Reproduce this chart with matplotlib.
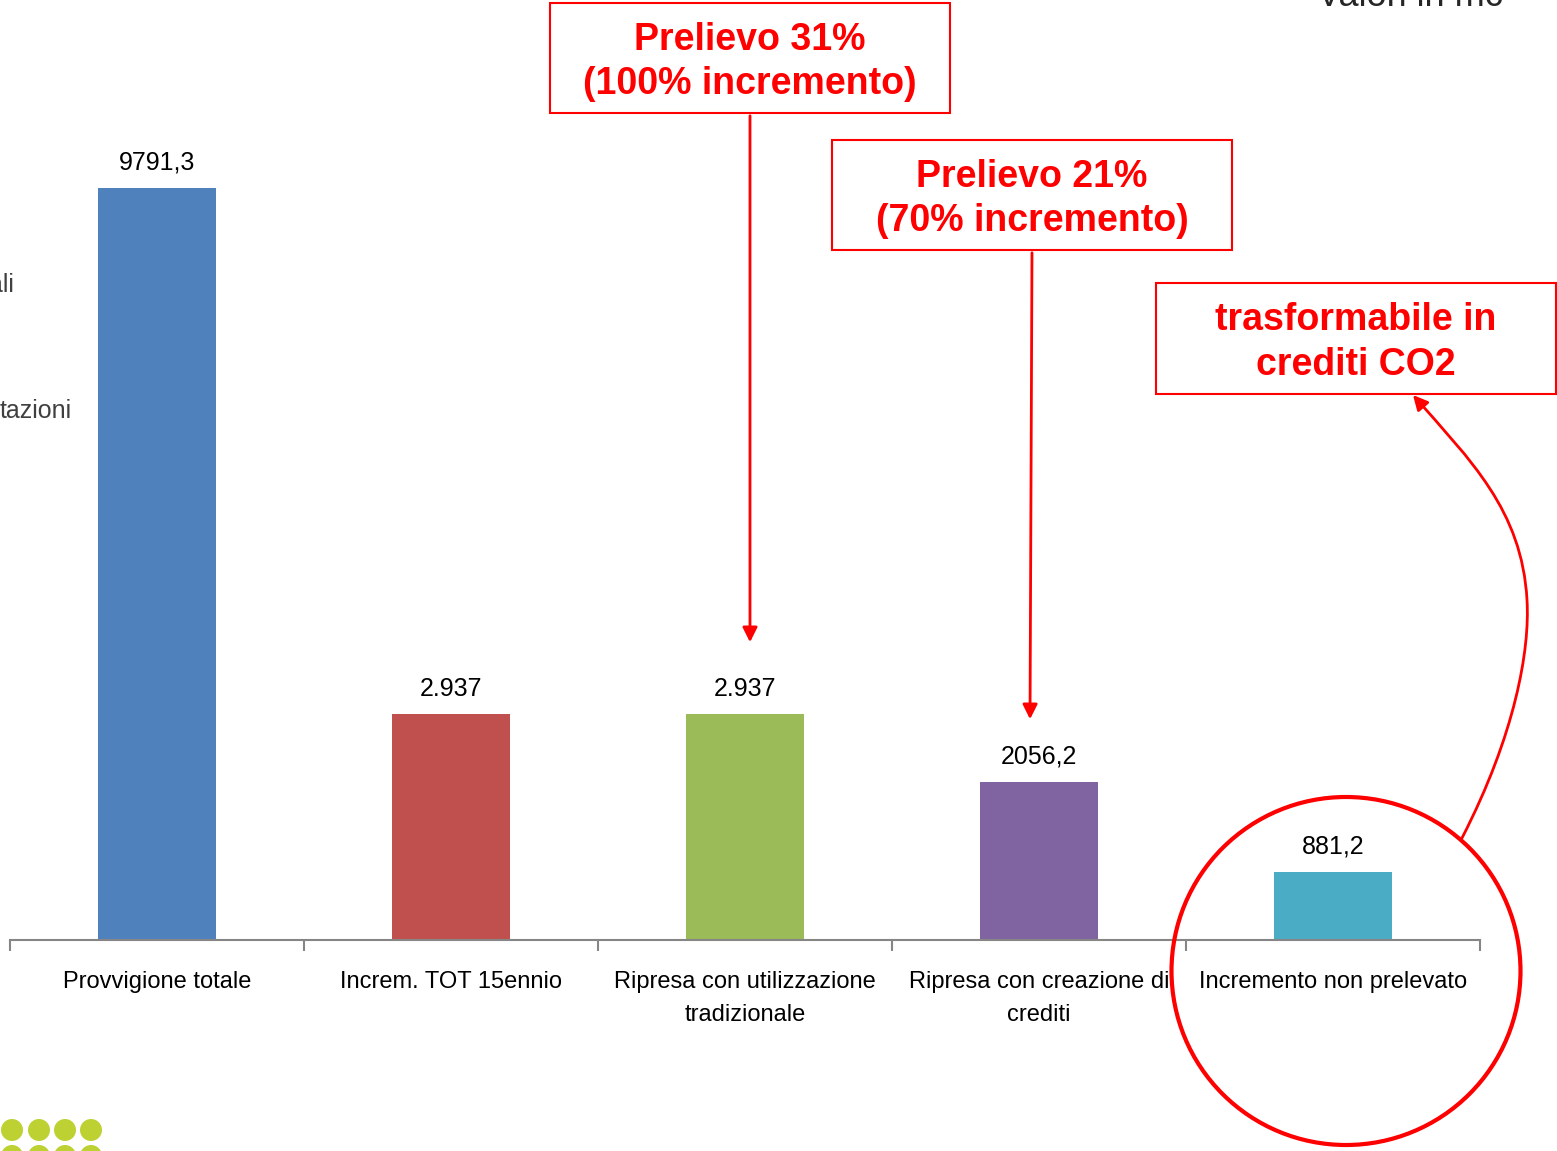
import matplotlib
matplotlib.use("Agg")
import matplotlib.pyplot as plt
from matplotlib.patches import Rectangle, Ellipse, FancyArrowPatch
from matplotlib.path import Path

categories = ["Provvigione totale", "Increm. TOT 15ennio",
              "Ripresa con utilizzazione\ntradizionale",
              "Ripresa con creazione di\ncrediti", "Incremento non prelevato"]
values = [9791.3, 2937, 2937, 2056.2, 881.2]
value_labels = ["9791,3", "2.937", "2.937", "2056,2", "881,2"]
colors = ["#4F81BD", "#C0504D", "#9BBB59", "#8064A2", "#4BACC6"]

W, H = 1557, 1151
fig = plt.figure(figsize=(W / 100, H / 100), dpi=100)

def fx(x):
    return x / W

def fy(y):
    return 1 - y / H

ymax = 12000
px_per_unit = 752 / 9791.3
ax_h = ymax * px_per_unit
ax = fig.add_axes([fx(10), fy(940), (1480 - 10) / W, ax_h / H])
x = range(len(categories))
ax.bar(x, values, width=0.4, color=colors, zorder=2)
ax.set_xlim(-0.5, 4.5)
ax.set_ylim(0, ymax)
for s in ["top", "right", "left"]:
    ax.spines[s].set_visible(False)
ax.spines["bottom"].set_color("#868686")
ax.spines["bottom"].set_linewidth(1.5)
ax.set_yticks([])
ax.set_xticks(list(x))
ax.set_xticklabels(categories, fontsize=17, family="Liberation Sans", linespacing=1.65)
ax.tick_params(axis="x", which="major", length=0, pad=22)
ax.set_xticks([i - 0.5 for i in range(len(categories) + 1)], minor=True)
ax.tick_params(axis="x", which="minor", length=8, width=1.5, color="#868686")
for i, (v, lab) in enumerate(zip(values, value_labels)):
    ax.annotate(lab, (i, v), xytext=(0, 10), textcoords="offset points",
                ha="center", va="bottom", fontsize=18, family="Liberation Sans",
                color="black")

red = "#FF0000"
boxes = [
    ((550, 3, 950, 113), "Prelievo 31%\n(100% incremento)"),
    ((832, 140, 1232, 250), "Prelievo 21%\n(70% incremento)"),
    ((1156, 283, 1556, 394), "trasformabile in\ncrediti CO2"),
]
for (x0, y0, x1, y1), txt in boxes:
    fig.patches.append(Rectangle((fx(x0), fy(y1)), fx(x1 - x0), (y1 - y0) / H,
                                 transform=fig.transFigure, fill=False,
                                 edgecolor=red, lw=1.5))
    fig.text(fx((x0 + x1) / 2), fy((y0 + y1) / 2 + 4), txt, ha="center", va="center",
             color=red, fontsize=27, fontweight="bold", family="Liberation Sans",
             linespacing=1.3)

for (xs, ys), (xe, ye) in [((750, 113), (750, 645)), ((1032, 250), (1030, 722))]:
    fig.patches.append(FancyArrowPatch((fx(xs), fy(ys)), (fx(xe), fy(ye)),
                                       transform=fig.transFigure, arrowstyle="-|>",
                                       mutation_scale=22, color=red, lw=2))

# curved arrow from circle to box 3
verts = [(1462, 838), (1515, 735), (1530, 650), (1527, 600),
         (1522, 510), (1470, 460), (1413, 395)]
codes = [Path.MOVETO, Path.CURVE4, Path.CURVE4, Path.CURVE4,
         Path.CURVE4, Path.CURVE4, Path.CURVE4]
path = Path([(fx(a), fy(b)) for a, b in verts], codes)
fig.patches.append(FancyArrowPatch(path=path, transform=fig.transFigure,
                                   arrowstyle="-|>", mutation_scale=22,
                                   color=red, lw=2))

# circle
fig.patches.append(Ellipse((fx(1346), fy(971)), 349 / W, 348 / H,
                           transform=fig.transFigure, fill=False,
                           edgecolor=red, lw=3))

# partial texts
fig.text(fx(1410), fy(6), "Valori in mc", ha="center", va="baseline",
         fontsize=26, color="#262626", family="Liberation Sans")
fig.text(fx(14), fy(292), "ali", ha="right", va="baseline",
         fontsize=18, color="#404040", family="Liberation Sans")
fig.text(fx(72), fy(418), "tazioni", ha="right", va="baseline",
         fontsize=18, color="#404040", family="Liberation Sans")

# decorative dots
for row_y in [1130, 1156]:
    for cx in [12, 39, 65, 91]:
        fig.patches.append(Ellipse((fx(cx), fy(row_y)), 22 / W, 22 / H,
                                   transform=fig.transFigure,
                                   color="#BDD133", lw=0))

fig.savefig("out.png", dpi=100)
